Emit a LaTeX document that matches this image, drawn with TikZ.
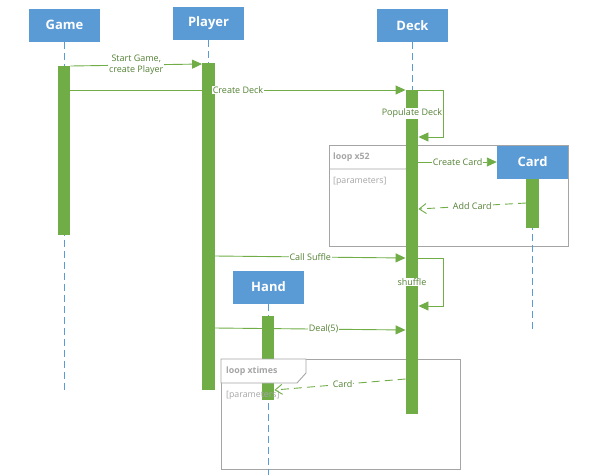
\documentclass[tikz,border=0pt]{standalone}
\usepackage{fontspec}
\setmainfont{Open Sans}
\usetikzlibrary{arrows.meta}
\definecolor{boxblue}{HTML}{5B9BD5}
\definecolor{bargreen}{HTML}{70AD47}
\definecolor{msggreen}{HTML}{548235}
\definecolor{framegray}{HTML}{A5A5A5}
\tikzset{
  actor/.style={fill=boxblue, text=white, font=\bfseries\fontsize{13}{15}\selectfont,
    minimum width=71pt, minimum height=33pt, inner sep=0pt},
  lifeline/.style={boxblue, line width=0.9pt, dash pattern=on 7pt off 4pt},
  bar/.style={fill=bargreen, minimum width=12.5pt, inner sep=0pt, anchor=north},
  msg/.style={bargreen, line width=0.9pt, -{Triangle[length=10pt,width=9pt]}},
  reply/.style={bargreen, line width=0.9pt, dash pattern=on 8pt off 5pt,
    -{Straight Barb[length=7pt,width=10pt]}},
  msglabel/.style={fill=white, text=msggreen, font=\fontsize{9}{10.5}\selectfont, inner sep=1pt},
  loopframe/.style={framegray, line width=0.9pt},
  looptitle/.style={text=framegray, font=\bfseries\fontsize{8.8}{10}\selectfont, anchor=west, inner sep=0pt},
  guardtext/.style={text=framegray, font=\fontsize{8.8}{10}\selectfont, anchor=west, inner sep=0pt}
}
\begin{document}
\begin{tikzpicture}[x=1pt,y=-1pt]
	\useasboundingbox (0,0) rectangle (590,475);
	% loop frames
	\draw[loopframe] (329,145) rectangle (568,246);
	\draw[loopframe] (329,169) -- (406,169) -- (413,156) -- (413,145);
	\draw[loopframe] (221,359) rectangle (460,469);
	% actors
	\node[actor] (game) at (64.5,25) {Game};
	\node[actor] (player) at (208.5,23.5) {Player};
	\node[actor] (deck) at (412.5,25.5) {Deck};
	\node[actor] (card) at (532.5,162) {Card};
	\node[actor] (hand) at (268.5,287) {Hand};
	% lifelines
	\draw[lifeline] (game.south) -- (game.south |- 0,392);
	\draw[lifeline] (player.south) -- (player.south |- 0,63);
	\draw[lifeline] (deck.south) -- (deck.south |- 0,90);
	\draw[lifeline] (card.south) -- (card.south |- 0,330);
	\draw[lifeline] (hand.south) -- (hand.south |- 0,475);
	% activation bars
	\node[bar, minimum height=169pt] (gamebar) at (64,66) {};
	\node[bar, minimum height=327pt] (playerbar) at (208.5,63) {};
	\node[bar, minimum height=324pt] (deckbar) at (412,90) {};
	\node[bar, minimum height=49pt] (cardbar) at (532.5,179) {};
	\node[bar, minimum height=84pt] (handbar) at (268,316) {};
	% tab of the second loop lies over the hand bar
	\draw[loopframe, fill=white] (221,359) -- (221,383) -- (297,383) -- (306,373) -- (306,359) -- cycle;
	% frame texts
	\node[looptitle] (loopa) at (333,157) {loop x52};
	\node[guardtext] (guarda) at (333,181) {[parameters]};
	\node[looptitle] (loopb) at (226,371) {loop xtimes};
	\node[guardtext] (guardb) at (226,395) {[parameters]};
	% messages
	\draw[msg] (gamebar.north east) -- ([yshift=-1pt]playerbar.north west)
		node[msglabel, align=center, midway] {Start Game,\\create Player};
	\draw[msg] (gamebar.east |- deckbar.north) -- (deckbar.north west)
		node[msglabel, pos=0.5] {Create Deck};
	\draw[msg] (deckbar.north east) -| ++(25,47) -- ++(-25,0);
	\node[msglabel] (populate) at (412,113) {Populate Deck};
	\draw[msg] (deckbar.east |- card.west) -- (card.west)
		node[msglabel, midway] {Create Card};
	\draw[reply] ([yshift=-24pt]cardbar.north west) -- ([yshift=-119pt]deckbar.north east)
		node[msglabel, midway] {Add Card};
	\draw[msg] ([yshift=-193pt]playerbar.north east) -- ([yshift=-168pt]deckbar.north west)
		node[msglabel, midway] {Call Suffle};
	\draw[msg] ([yshift=-168pt]deckbar.north east) -| ++(25,48) -- ++(-25,0);
	\node[msglabel] (shuffle) at (412,282) {shuffle};
	\draw[msg] ([yshift=-265pt]playerbar.north east) -- ([yshift=-240pt]deckbar.north west)
		node[msglabel, pos=0.57] {Deal(5)};
	\draw[reply] ([yshift=-289pt]deckbar.north west) -- ([yshift=-74pt]handbar.north east)
		node[msglabel, pos=0.48] {Card};
\end{tikzpicture}
\end{document}
